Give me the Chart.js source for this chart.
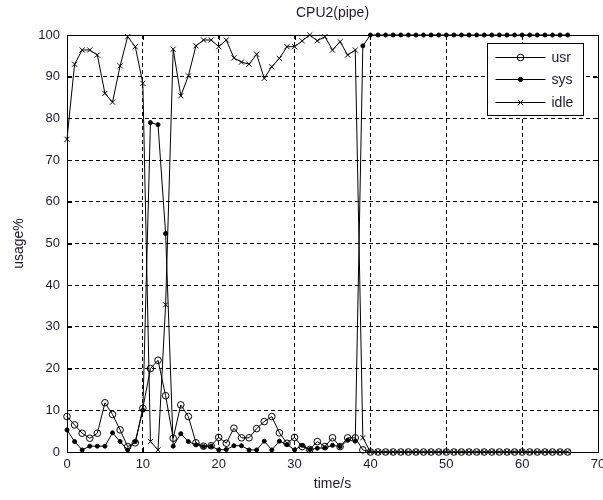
<!DOCTYPE html>
<html><head><meta charset="utf-8">
<script src="https://cdn.jsdelivr.net/npm/chart.js@4.4.1/dist/chart.umd.min.js"></script>
<style>html,body{margin:0;padding:0;background:#fff;}#wrap{width:603px;height:500px;}</style>
</head><body><div id="wrap"><canvas id="c" width="603" height="500"></canvas></div>
<script>
const chartTitle = 'CPU2(pipe)';
const xAxisTitle = 'time/s';
const yAxisTitle = 'usage%';
const seriesNames = ['usr', 'sys', 'idle'];
const xTicks = [0, 10, 20, 30, 40, 50, 60, 70];
const yTicks = [0, 10, 20, 30, 40, 50, 60, 70, 80, 90, 100];
const time = [0,1,2,3,4,5,6,7,8,9,10,11,12,13,14,15,16,17,18,19,20,21,22,23,24,25,26,27,28,29,30,31,32,33,34,35,36,37,38,39,40,41,42,43,44,45,46,47,48,49,50,51,52,53,54,55,56,57,58,59,60,61,62,63,64,65,66];
const usr = [8.5,6.5,4.5,3.3,4.5,11.8,9,5.3,1.3,2.2,10.5,20,22,13.5,3.3,11.3,8.5,2.2,1.4,1.5,3.5,2.1,5.7,3.4,3.4,5.6,7.3,8.5,4.6,2.1,3.5,1.3,0.6,2.5,1.3,3.4,1.3,3.4,3.4,0.5,0,0,0,0,0,0,0,0,0,0,0,0,0,0,0,0,0,0,0,0,0,0,0,0,0,0,0];
const sys = [5.3,2.5,0.5,1.4,1.4,1.4,4.6,2.5,0.5,2.5,10,79,78.5,52.4,1.4,4.4,2.5,1.7,1.3,1.4,0.5,0.6,1.5,1.5,0.5,0.5,2.6,0.5,2.6,1.8,0.5,1.6,0.6,0.9,1,1.6,1.3,2.8,2.6,97.4,100,100,100,100,100,100,100,100,100,100,100,100,100,100,100,100,100,100,100,100,100,100,100,100,100,100,100];
const idle = [75,93,96.4,96.4,95.2,86,83.9,92.6,99.6,97.2,88.4,2.5,0.5,35.3,96.6,85.4,90.2,97.4,98.8,98.8,97.2,98.8,94.5,93.5,93,95.4,89.6,92.4,94.4,97.2,97.2,98.6,100,98.6,99.6,96.4,98.4,95.2,96.4,3.4,0,0,0,0,0,0,0,0,0,0,0,0,0,0,0,0,0,0,0,0,0,0,0,0,0,0,0];

const TXT = '#201830';
const FONT = 'Liberation Sans, Arial, sans-serif';
const pts = arr => arr.map((v, i) => ({x: time[i], y: v}));

const marks = [
  {pointStyle: 'circle', pointRadius: 3.3, backgroundColor: 'rgba(0,0,0,0)'},
  {pointStyle: 'circle', pointRadius: 2, backgroundColor: '#000'},
  {pointStyle: 'crossRot', pointRadius: 3.6, backgroundColor: '#000'}
];
const values = [usr, sys, idle];
const datasets = values.map((arr, k) => ({
  label: seriesNames[k],
  data: pts(arr),
  borderColor: '#000',
  borderWidth: 1,
  pointBorderColor: '#000',
  pointBorderWidth: 1,
  pointBackgroundColor: marks[k].backgroundColor,
  pointStyle: marks[k].pointStyle,
  pointRadius: marks[k].pointRadius,
  tension: 0,
  clip: false,
  order: 3 - k
}));

const frame = {
  id: 'frame',
  beforeDatasetsDraw(chart) {
    const {ctx, chartArea: a, scales} = chart;
    ctx.save();
    ctx.strokeStyle = '#000';
    ctx.lineWidth = 1;
    ctx.setLineDash([]);
    ctx.strokeRect(Math.round(a.left) + 0.5, Math.round(a.top) + 0.5, Math.round(a.right - a.left), Math.round(a.bottom - a.top));
    ctx.beginPath();
    scales.x.ticks.forEach(t => {
      const x = Math.round(scales.x.getPixelForValue(t.value)) + 0.5;
      ctx.moveTo(x, a.bottom); ctx.lineTo(x, a.bottom - 5);
      ctx.moveTo(x, a.top); ctx.lineTo(x, a.top + 5);
    });
    scales.y.ticks.forEach(t => {
      const y = Math.round(scales.y.getPixelForValue(t.value)) + 0.5;
      ctx.moveTo(a.left, y); ctx.lineTo(a.left + 5, y);
      ctx.moveTo(a.right, y); ctx.lineTo(a.right - 5, y);
    });
    ctx.stroke();
    ctx.fillStyle = TXT;
    ctx.font = '14px ' + FONT;
    ctx.textAlign = 'center';
    ctx.textBaseline = 'middle';
    ctx.fillText(chartTitle, (a.left + a.right) / 2, 13);
    ctx.restore();
  },
  afterDatasetsDraw(chart) {
    const {ctx, chartArea: a} = chart;
    ctx.save();
    const bx = Math.round(a.right) - 111 + 0.5, by = Math.round(a.top) + 8 + 0.5, bw = 96, bh = 72;
    ctx.fillStyle = '#fff';
    ctx.fillRect(bx, by, bw, bh);
    ctx.strokeStyle = '#000';
    ctx.lineWidth = 1;
    ctx.strokeRect(bx, by, bw, bh);
    chart.data.datasets.forEach((ds, k) => {
      const y = Math.round(by + 13 + k * 22.5) + 0.5;
      ctx.beginPath();
      ctx.moveTo(bx + 8, y);
      ctx.lineTo(bx + 58, y);
      ctx.strokeStyle = '#000';
      ctx.lineWidth = 1;
      ctx.stroke();
      ctx.fillStyle = ds.pointBackgroundColor;
      if (ds.pointStyle === 'circle') {
        ctx.beginPath();
        ctx.arc(bx + 33, y, ds.pointRadius, 0, Math.PI * 2);
        ctx.fill(); ctx.stroke();
      } else {
        Chart.helpers.drawPoint(ctx, {pointStyle: ds.pointStyle, radius: ds.pointRadius, borderWidth: 1, rotation: 0}, bx + 33, y);
      }
      ctx.fillStyle = TXT;
      ctx.font = '14px ' + FONT;
      ctx.textAlign = 'left';
      ctx.textBaseline = 'middle';
      ctx.fillText(ds.label, bx + 64, y + 1);
    });
    ctx.restore();
  }
};

new Chart(document.getElementById('c'), {
  type: 'line',
  data: {datasets},
  options: {
    responsive: false,
    devicePixelRatio: 1,
    animation: false,
    layout: {padding: {top: 35, right: 5, left: 0, bottom: 0}},
    plugins: {legend: {display: false}, title: {display: false}, tooltip: {enabled: false}},
    scales: {
      x: {
        type: 'linear', min: 0, max: 70,
        afterBuildTicks: s => { s.ticks = xTicks.map(v => ({value: v})); },
        afterFit: s => { s.height = 48; s.paddingLeft = 0; s.paddingRight = 0; },
        ticks: {color: TXT, font: {family: FONT, size: 13}, padding: 5, maxRotation: 0},
        grid: {color: '#000', lineWidth: 1, drawTicks: false},
        border: {display: true, color: '#000', dash: [4, 3]},
        title: {display: true, text: xAxisTitle, color: TXT, font: {family: FONT, size: 14}, padding: {top: 0, bottom: 7}}
      },
      y: {
        min: 0, max: 100,
        afterBuildTicks: s => { s.ticks = yTicks.map(v => ({value: v})); },
        afterFit: s => { s.width = 67; s.paddingTop = 0; s.paddingBottom = 0; },
        ticks: {color: TXT, font: {family: FONT, size: 13}, padding: 7},
        grid: {color: '#000', lineWidth: 1, drawTicks: false},
        border: {display: true, color: '#000', dash: [4, 3]},
        title: {display: true, text: yAxisTitle, color: TXT, font: {family: FONT, size: 14}, padding: {top: 11, bottom: 0}}
      }
    }
  },
  plugins: [frame]
});
</script></body></html>
